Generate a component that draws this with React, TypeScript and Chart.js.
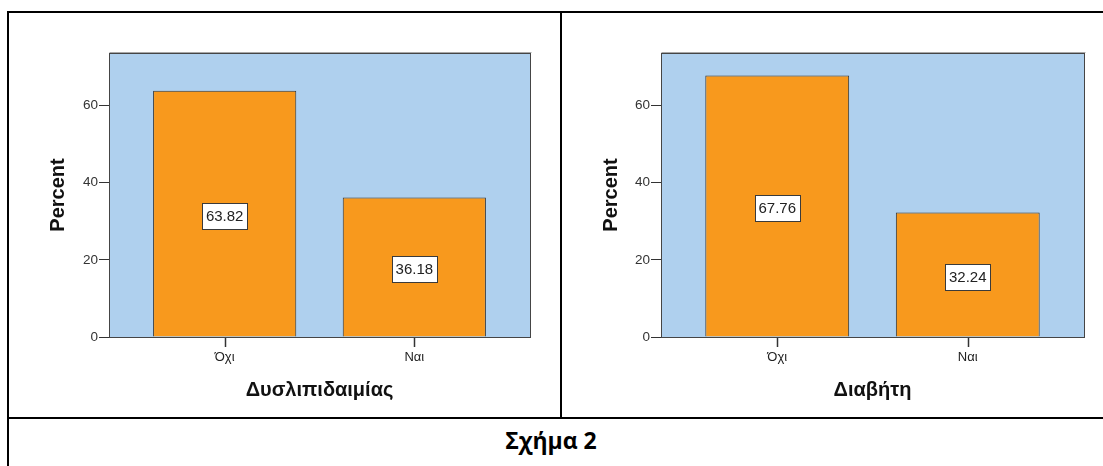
import React, { useEffect, useRef } from "react";
import { Chart, registerables } from "chart.js";

Chart.register(...registerables);

const categories = ["Όχι", "Ναι"];
const dyslipidemiaValues = [63.82, 36.18];
const diabetesValues = [67.76, 32.24];
const yTickValues = [0, 20, 40, 60];
const xTitles = ["Δυσλιπιδαιμίας", "Διαβήτη"];
const yTitle = "Percent";
const caption = "Σχήμα 2";

const BAR_COLOR = "#F8991D";
const PLOT_BG = "#AFD0EE";
const FONT = "'Liberation Sans', Arial, sans-serif";

const plotPlugin = {
  id: "plotDecor",
  beforeDatasetsDraw(chart: any) {
    const { ctx, chartArea: a } = chart;
    ctx.save();
    ctx.fillStyle = PLOT_BG;
    ctx.fillRect(a.left, a.top, a.right - a.left, a.bottom - a.top);
    ctx.restore();
  },
  afterDatasetsDraw(chart: any) {
    const { ctx, chartArea: a } = chart;
    ctx.save();
    ctx.strokeStyle = "#A8A8A8";
    ctx.lineWidth = 1;
    ctx.beginPath();
    ctx.moveTo(Math.round(a.left) + 0.5, Math.round(a.top) - 0.5);
    ctx.lineTo(Math.round(a.right) + 1.5, Math.round(a.top) - 0.5);
    ctx.stroke();
    ctx.strokeStyle = "#454545";
    ctx.strokeRect(
      Math.round(a.left) + 0.5,
      Math.round(a.top) + 0.5,
      Math.round(a.right) - Math.round(a.left),
      Math.round(a.bottom) - Math.round(a.top)
    );
    // x tick marks at category positions
    const xs = chart.scales.x;
    ctx.strokeStyle = "#333333";
    ctx.lineWidth = 1.5;
    categories.forEach((_, i) => {
      const px = Math.round(xs.getPixelForValue(i)) + 0.5;
      ctx.beginPath();
      ctx.moveTo(px, Math.round(a.bottom) + 1);
      ctx.lineTo(px, Math.round(a.bottom) + 10);
      ctx.stroke();
    });
    // value labels
    const meta = chart.getDatasetMeta(0);
    const data = chart.data.datasets[0].data as any[];
    ctx.font = `15px ${FONT}`;
    ctx.textAlign = "center";
    ctx.textBaseline = "middle";
    ctx.lineWidth = 1;
    meta.data.forEach((bar: any, i: number) => {
      const v = data[i].y as number;
      const text = v.toFixed(2);
      const cx = bar.x;
      const cy = (bar.y + bar.base) / 2 + 2;
      const w = 45;
      const h = 26;
      const x0 = Math.round(cx - w / 2) + 0.5;
      const y0 = Math.round(cy - h / 2) + 0.5;
      ctx.fillStyle = "#FFFFFF";
      ctx.fillRect(x0, y0, w, h);
      ctx.strokeStyle = "#3A3A3A";
      ctx.strokeRect(x0, y0, w, h);
      ctx.fillStyle = "#222222";
      ctx.fillText(text, cx, cy + 1);
    });
    ctx.restore();
  },
};

function BarPanel(props: {
  values: number[];
  xTitle: string;
  width: number;
  height: number;
  yAxisWidth: number;
  padRight: number;
}) {
  const ref = useRef<HTMLCanvasElement | null>(null);
  useEffect(() => {
    if (!ref.current) return;
    const chart = new Chart(ref.current, {
      type: "bar",
      data: {
        datasets: [
          {
            data: props.values.map((v, i) => ({ x: i, y: v })),
            backgroundColor: BAR_COLOR,
            borderColor: "#333333",
            borderWidth: 1,
            categoryPercentage: 0.755,
            barPercentage: 1,
          },
        ],
      },
      options: {
        animation: false,
        responsive: false,
        maintainAspectRatio: false,
        layout: { padding: { top: 40, right: props.padRight, left: 0, bottom: 0 } },
        plugins: {
          legend: { display: false },
          tooltip: { enabled: false },
        },
        scales: {
          x: {
            type: "linear",
            min: -0.61,
            max: 1.61,
            offset: false,
            afterBuildTicks: (s: any) => {
              s.ticks = categories.map((_, i) => ({ value: i }));
            },
            afterFit: (s: any) => {
              s.height = 80;
            },
            border: { display: false },
            grid: {
              offset: false,
              drawOnChartArea: false,
              drawTicks: false,
              tickLength: 10,
              color: "rgba(0,0,0,0)",
            },
            ticks: {
              padding: 13,
              color: "#222222",
              font: { family: FONT, size: 13 },
              maxRotation: 0,
              autoSkip: false,
              callback: (v: any) => categories[Math.round(Number(v))] ?? "",
            },
            title: {
              display: true,
              text: props.xTitle,
              color: "#111111",
              font: { family: FONT, size: 20, weight: "bold" },
              padding: { top: 15, bottom: 15 },
            },
          },
          y: {
            type: "linear",
            min: 0,
            max: 73.6,
            afterBuildTicks: (s: any) => {
              s.ticks = yTickValues.map((v) => ({ value: v }));
            },
            afterFit: (s: any) => {
              s.width = props.yAxisWidth;
            },
            border: { display: false },
            grid: {
              drawOnChartArea: false,
              drawTicks: true,
              tickLength: 10,
              color: "#333333",
              tickColor: "#333333",
              tickWidth: 1,
            },
            ticks: {
              padding: 1,
              color: "#333333",
              font: { family: FONT, size: 13.5 },
              autoSkip: false,
            },
            title: {
              display: true,
              text: yTitle,
              color: "#111111",
              font: { family: FONT, size: 20, weight: "bold" },
              padding: { top: 37, bottom: 37 },
            },
          },
        },
      } as any,
      plugins: [plotPlugin],
    });
    return () => chart.destroy();
  }, []);
  return <canvas ref={ref} width={props.width} height={props.height} style={{ display: "block" }} />;
}

export default function App() {
  const line = (style: React.CSSProperties) => (
    <div style={{ position: "absolute", background: "#000", ...style }} />
  );
  return (
    <div style={{ position: "fixed", left: 0, top: 0, width: 1103, height: 466, background: "#fff" }}>
      <div style={{ position: "absolute", left: 9, top: 13 }}>
        <BarPanel values={dyslipidemiaValues} xTitle={xTitles[0]} width={551} height={404} yAxisWidth={100} padRight={30} />
      </div>
      <div style={{ position: "absolute", left: 562, top: 13 }}>
        <BarPanel values={diabetesValues} xTitle={xTitles[1]} width={541} height={404} yAxisWidth={99} padRight={19} />
      </div>
      {line({ left: 7, top: 11, width: 1096, height: 2 })}
      {line({ left: 7, top: 11, width: 2, height: 455 })}
      {line({ left: 560, top: 11, width: 2, height: 407 })}
      {line({ left: 7, top: 417, width: 1096, height: 2 })}
      <div
        style={{
          position: "absolute",
          left: 9,
          top: 426,
          width: 1084,
          textAlign: "center",
          fontFamily: "'Open Sans', 'Noto Sans', sans-serif",
          fontWeight: 700,
          fontSize: 23,
          lineHeight: "28px",
          color: "#000",
        }}
      >
        {caption}
      </div>
    </div>
  );
}
